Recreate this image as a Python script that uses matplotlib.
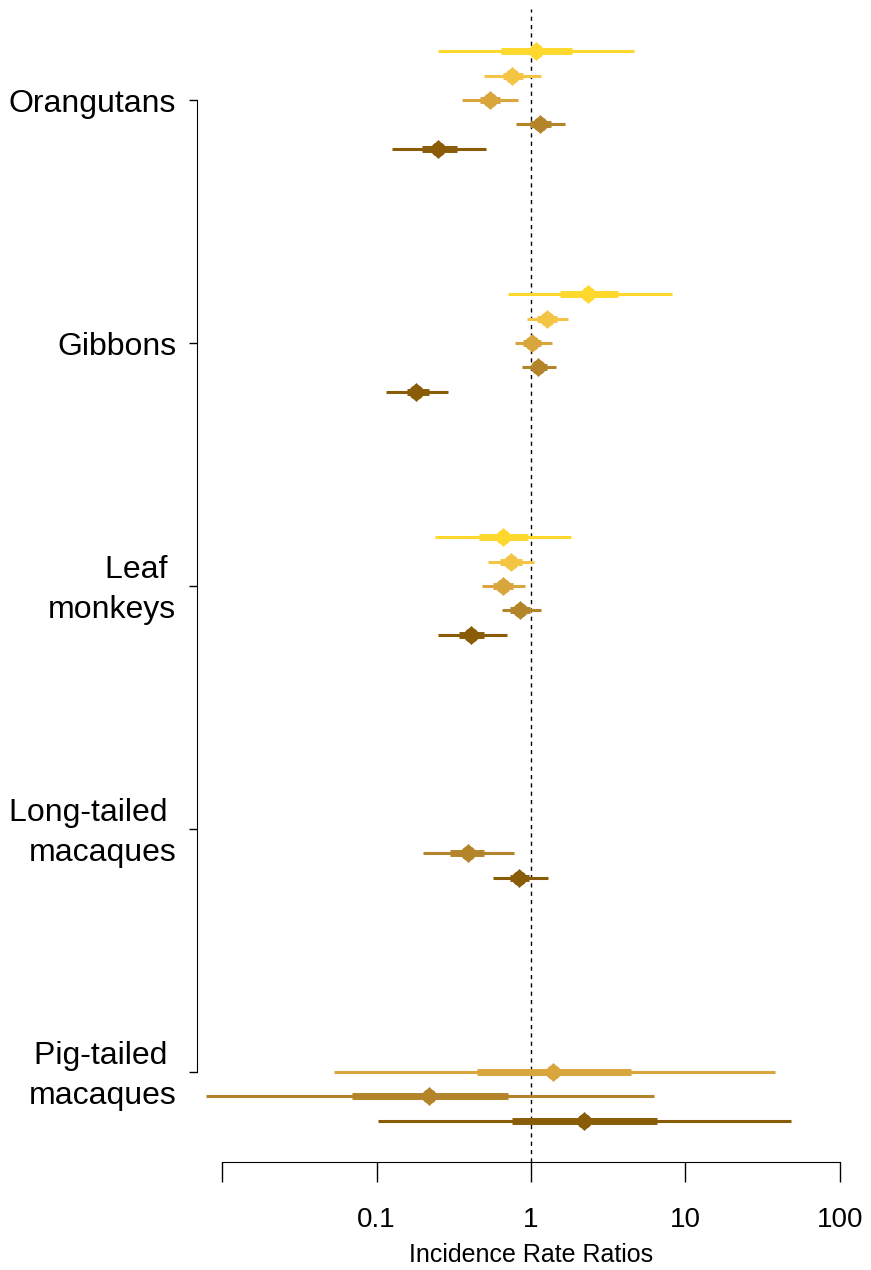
import numpy as np
import matplotlib.pyplot as plt
from matplotlib.transforms import ScaledTranslation

plt.rcParams['font.family'] = ['Liberation Sans', 'DejaVu Sans']

# species groups (top to bottom)
species = ["Orangutans", "Gibbons", "Leaf \nmonkeys",
           "Long-tailed \nmacaques", "Pig-tailed \nmacaques"]

# one colour per model level (light to dark)
level_colors = ['#FFD82E', '#F4C445', '#D9A53D', '#B3842A', '#8A5C08']

# each estimate: which species, which level
group = [0, 0, 0, 0, 0,
         1, 1, 1, 1, 1,
         2, 2, 2, 2, 2,
         3, 3,
         4, 4, 4]
level = [0, 1, 2, 3, 4,
         0, 1, 2, 3, 4,
         0, 1, 2, 3, 4,
         3, 4,
         2, 3, 4]

# incidence rate ratios with outer (thin) and inner (thick) intervals
irr = [1.07, 0.75, 0.54, 1.15, 0.25,
       2.35, 1.26, 1.02, 1.11, 0.18,
       0.66, 0.74, 0.66, 0.85, 0.41,
       0.39, 0.84,
       1.39, 0.218, 2.19]
outer_lo = [0.25, 0.50, 0.36, 0.80, 0.126,
            0.71, 0.94, 0.79, 0.88, 0.116,
            0.24, 0.53, 0.48, 0.65, 0.25,
            0.20, 0.57,
            0.053, 0.0079, 0.102]
outer_hi = [4.64, 1.16, 0.82, 1.66, 0.51,
            8.14, 1.73, 1.37, 1.45, 0.29,
            1.81, 1.05, 0.91, 1.16, 0.70,
            0.78, 1.29,
            38.0, 6.24, 48.0]
inner_lo = [0.64, 0.66, 0.47, 0.99, 0.196,
            1.54, 1.09, 0.89, 1.01, 0.157,
            0.46, 0.63, 0.57, 0.73, 0.34,
            0.30, 0.73,
            0.45, 0.069, 0.75]
inner_hi = [1.83, 0.89, 0.63, 1.34, 0.33,
            3.67, 1.47, 1.16, 1.26, 0.22,
            0.96, 0.87, 0.77, 0.99, 0.50,
            0.50, 0.97,
            4.43, 0.71, 6.5]

x_ticks = [0.01, 0.1, 1, 10, 100]
x_tick_labels = ["", "0.1", "1", "10", "100"]

W, H = 871, 1270
fig = plt.figure(figsize=(W / 100, H / 100), dpi=100)
ax = fig.add_axes([197 / W, 1 - 1162 / H, (865 - 197) / W, (1162 - 9) / H])

# reference line at IRR = 1
ax.axvline(1, color='black', lw=1, ls=(0, (3, 3)), zorder=1)

for g, lv, est, olo, ohi, ilo, ihi in zip(group, level, irr, outer_lo,
                                          outer_hi, inner_lo, inner_hi):
    y = g + 0.1 * (lv - 2)
    c = level_colors[lv]
    ax.plot([olo, ohi], [y, y], color=c, lw=2.2, solid_capstyle='butt', zorder=2)
    ax.plot([ilo, ihi], [y, y], color=c, lw=5, solid_capstyle='butt', zorder=3)
    # rounded diamond point: circle overlaid with a diamond
    ax.plot(est, y, marker='o', ms=10.5, color=c, mec=c, mew=0, zorder=4)
    ax.plot(est, y, marker='D', ms=9.5, color=c, mec=c, mew=0.5, zorder=4)

ax.set_xscale('log')
ax.set_xlim(10 ** -2.162, 10 ** 2.162)
ax.set_ylim(4.370, -0.3745)

ax.set_xticks(x_ticks)
ax.set_xticklabels(x_tick_labels)
ax.minorticks_off()
ax.tick_params(axis='x', length=14.5, width=1, pad=18, labelsize=20)
ax.set_yticks(range(len(species)))
ax.set_yticklabels(species, linespacing=1.45)
ax.tick_params(axis='y', length=6, width=1, pad=9, labelsize=23)

# nudge the two-line labels up a little so they sit centred on the tick
for lab in ax.get_yticklabels():
    if "\n" in lab.get_text():
        lab.set_transform(lab.get_transform() +
                          ScaledTranslation(0, 5 / 100, fig.dpi_scale_trans))

for side in ['top', 'right']:
    ax.spines[side].set_visible(False)
ax.spines['bottom'].set_bounds(0.01, 100)
ax.spines['left'].set_bounds(0, 4)

ax.set_xlabel("Incidence Rate Ratios", fontsize=18)
ax.xaxis.set_label_coords(0.5, -0.07)

fig.savefig("out.png", dpi=100)
